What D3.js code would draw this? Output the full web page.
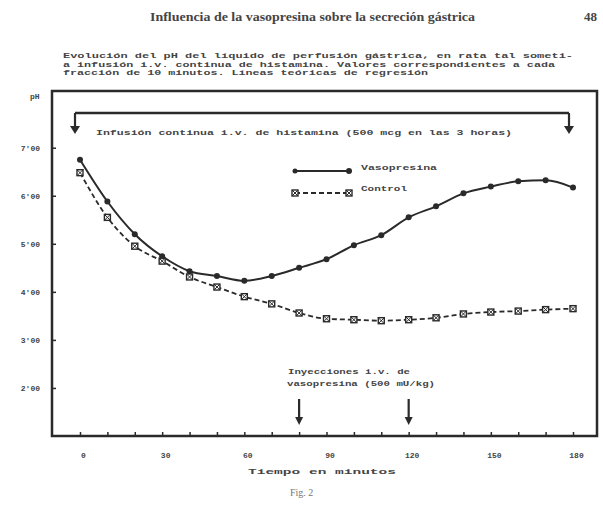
<!DOCTYPE html>
<html><head><meta charset="utf-8">
<script src="https://cdn.jsdelivr.net/npm/d3@7/dist/d3.min.js"></script>
<style>
html,body{margin:0;padding:0;background:#fff;}
svg{display:block;}
.mono{font-family:"Liberation Mono","DejaVu Sans Mono",monospace;font-weight:bold;fill:#444;}
</style></head>
<body>
<svg id="c" width="603" height="510"></svg>
<script>
const minutes = [0,10,20,30,40,50,60,70,80,90,100,110,120,130,140,150,160,170,180];
const vasopresina = [6.75,5.88,5.2,4.74,4.43,4.33,4.23,4.33,4.5,4.68,4.97,5.18,5.55,5.78,6.05,6.19,6.3,6.32,6.17];
const control = [6.48,5.55,4.95,4.64,4.31,4.1,3.9,3.75,3.56,3.44,3.42,3.4,3.42,3.46,3.54,3.58,3.6,3.63,3.65];
const yTicks = [2,3,4,5,6,7];
const yTickLabels = ["2'00","3'00","4'00","5'00","6'00","7'00"];
const xTickLabels = [0,30,60,90,120,150,180];
const injections = [80,120];
const infusion = [0,180];

const svg = d3.select("#c");
const ink = "#2a2a2a";
const L=52, T=91, R=597, B=436;
const x = d3.scaleLinear().domain([0,180]).range([80,573]);
const y = d3.scaleLinear().domain([1,8.18]).range([B,T]);

// header
svg.append("text").attr("x",150).attr("y",21)
  .attr("font-family","Liberation Serif, DejaVu Serif, serif").attr("font-size",13).attr("font-weight","bold")
  .attr("fill","#444").attr("textLength",325).attr("lengthAdjust","spacingAndGlyphs")
  .text("Influencia de la vasopresina sobre la secreción gástrica");
svg.append("text").attr("x",584).attr("y",21)
  .attr("font-family","Liberation Serif, DejaVu Serif, serif").attr("font-size",13).attr("font-weight","bold")
  .attr("fill","#444").text("48");

// caption
const cap = [
 ["Evolución del pH del líquido de perfusión gástrica, en rata tal someti-",510],
 ["a infusión i.v. continua de histamina. Valores correspondientes a cada",492],
 ["fracción de 10 minutos. Líneas teóricas de regresión",365]
];
cap.forEach((c,i)=>{
  svg.append("text").attr("class","mono").attr("x",63).attr("y",58+i*8.5)
    .attr("font-size",8).attr("textLength",c[1]).attr("lengthAdjust","spacingAndGlyphs").text(c[0]);
});

// frame
svg.append("text").attr("class","mono").attr("x",30).attr("y",99).attr("font-size",8).text("pH");
svg.append("rect").attr("x",L).attr("y",T).attr("width",R-L).attr("height",B-T)
  .attr("fill","none").attr("stroke",ink).attr("stroke-width",2.5);

// axes
const yAxis = d3.axisLeft(y).tickValues(yTicks).tickSize(-4).tickFormat((d,i)=>yTickLabels[i]).tickPadding(12);
const gy = svg.append("g").attr("transform",`translate(${L},0)`).call(yAxis);
gy.select(".domain").remove();
gy.selectAll("line").attr("stroke",ink).attr("stroke-width",1.5);
gy.selectAll("text").attr("class","mono").attr("font-size",8).attr("fill","#444").attr("font-weight","bold");

const xAxis = d3.axisBottom(x).tickValues(minutes).tickSize(-4)
  .tickFormat(d=> xTickLabels.includes(d)? d : "").tickPadding(16);
const gx = svg.append("g").attr("transform",`translate(0,${B})`).call(xAxis);
gx.select(".domain").remove();
gx.selectAll("line").attr("stroke",ink).attr("stroke-width",1.5);
gx.selectAll("text").attr("class","mono").attr("font-size",8).attr("fill","#444").attr("font-weight","bold").attr("dx",3);

svg.append("text").attr("class","mono").attr("x",248).attr("y",474).attr("font-size",8)
  .attr("textLength",148).attr("lengthAdjust","spacingAndGlyphs").text("Tiempo en minutos");
svg.append("text").attr("x",290).attr("y",496).attr("font-family","Liberation Serif, DejaVu Serif, serif")
  .attr("font-size",10).attr("fill","#777").text("Fig. 2");

// infusion bracket
function arrow(g,xx,y0,y1,w){
  g.append("line").attr("x1",xx).attr("x2",xx).attr("y1",y0).attr("y2",y1-7).attr("stroke",ink).attr("stroke-width",2.2);
  g.append("path").attr("d",`M${xx-w},${y1-8}L${xx+w},${y1-8}L${xx},${y1}Z`).attr("fill",ink);
}
const br = svg.append("g");
br.append("line").attr("x1",x(infusion[0])-5).attr("x2",x(infusion[1])-4).attr("y1",113).attr("y2",113)
  .attr("stroke",ink).attr("stroke-width",2.5);
arrow(br,x(infusion[0])-5,113,134,5);
arrow(br,x(infusion[1])-4,113,134,5);
svg.append("text").attr("class","mono").attr("x",96).attr("y",135).attr("font-size",8)
  .attr("textLength",416).attr("lengthAdjust","spacingAndGlyphs")
  .text("Infusión continua i.v. de histamina (500 mcg en las 3 horas)");

// injections
injections.forEach(t=> arrow(svg,x(t),399,425,4));
svg.append("text").attr("class","mono").attr("x",288).attr("y",374).attr("font-size",8)
  .attr("textLength",122).attr("lengthAdjust","spacingAndGlyphs").text("Inyecciones i.v. de");
svg.append("text").attr("class","mono").attr("x",287).attr("y",386).attr("font-size",8)
  .attr("textLength",148).attr("lengthAdjust","spacingAndGlyphs").text("vasopresina (500 mU/kg)");

// series
const line = d3.line().x((d,i)=>x(minutes[i])).y(d=>y(d)).curve(d3.curveMonotoneX);
svg.append("path").attr("d",line(control)).attr("fill","none").attr("stroke",ink)
  .attr("stroke-width",1.8).attr("stroke-dasharray","5,3");
svg.append("path").attr("d",line(vasopresina)).attr("fill","none").attr("stroke",ink).attr("stroke-width",2);

function square(g,cx,cy){
  g.append("rect").attr("x",cx-3).attr("y",cy-3).attr("width",6).attr("height",6)
    .attr("fill","#fff").attr("stroke",ink).attr("stroke-width",1.4);
  g.append("path").attr("d",`M${cx-3},${cy-3}L${cx+3},${cy+3}M${cx+3},${cy-3}L${cx-3},${cy+3}`)
    .attr("stroke",ink).attr("stroke-width",1);
}
const gc = svg.append("g");
control.forEach((v,i)=>square(gc,x(minutes[i]),y(v)));
svg.append("g").selectAll("circle").data(vasopresina).join("circle")
  .attr("cx",(d,i)=>x(minutes[i])).attr("cy",d=>y(d)).attr("r",3).attr("fill",ink);

// legend
const lg = svg.append("g");
lg.append("line").attr("x1",295).attr("x2",349).attr("y1",171).attr("y2",171).attr("stroke",ink).attr("stroke-width",2);
lg.append("circle").attr("cx",295).attr("cy",171).attr("r",2.5).attr("fill",ink);
lg.append("circle").attr("cx",349).attr("cy",171).attr("r",3).attr("fill",ink);
lg.append("text").attr("class","mono").attr("x",361).attr("y",170).attr("font-size",8)
  .attr("textLength",76).attr("lengthAdjust","spacingAndGlyphs").text("Vasopresina");
lg.append("line").attr("x1",295).attr("x2",349).attr("y1",193).attr("y2",193).attr("stroke",ink)
  .attr("stroke-width",1.8).attr("stroke-dasharray","5,3");
square(lg,295,193); square(lg,349,193);
lg.append("text").attr("class","mono").attr("x",361).attr("y",191).attr("font-size",8)
  .attr("textLength",46).attr("lengthAdjust","spacingAndGlyphs").text("Control");
</script>
</body></html>
